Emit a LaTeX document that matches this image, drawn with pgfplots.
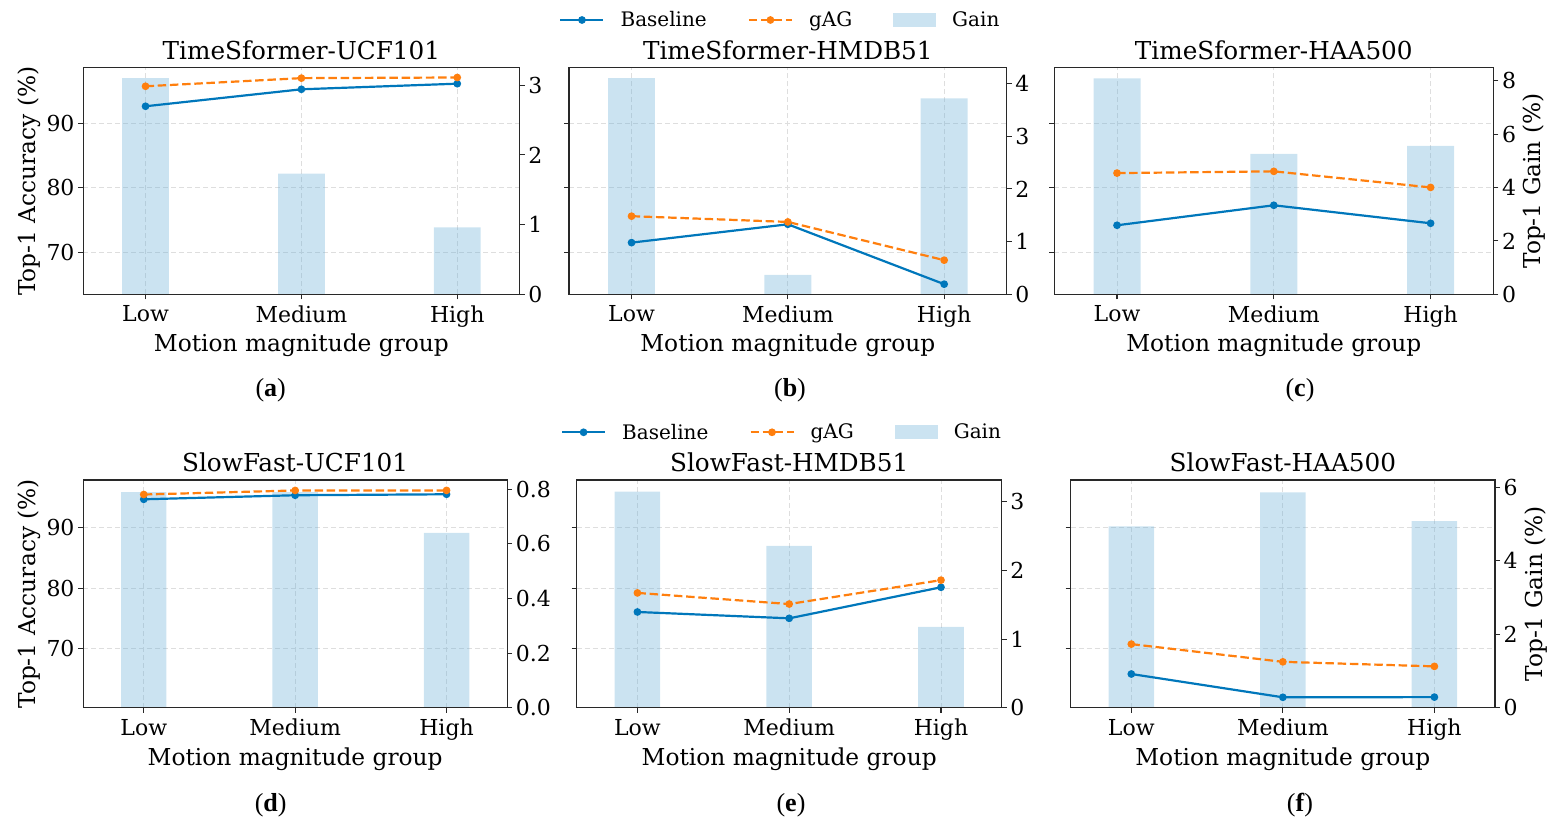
\documentclass[border=0pt]{standalone}
\usepackage{pgfplots}
\pgfplotsset{compat=1.18}
\usepackage{pgfplotstable}
\usepackage{fontspec}
\setmainfont{DejaVu Serif}
\newfontfamily\capfont{Liberation Serif}
\definecolor{basecol}{RGB}{0,119,187}
\definecolor{gagcol}{RGB}{255,127,14}
\definecolor{barcol}{RGB}{107,174,214}
\definecolor{gridcol}{RGB}{222,222,222}
\definecolor{axcol}{RGB}{40,40,40}
\newcommand{\fs}{\fontsize{22}{26}\selectfont}
\newcommand{\fl}{\fontsize{23.3}{27}\selectfont}

\pgfplotstableread{
x base gag gain
0 92.64 95.74 3.10
1 95.27 97.00 1.73
2 96.14 97.10 0.96
}\dataA
\pgfplotstableread{
x base gag gain
0 71.50 75.60 4.10
1 74.34 74.71 0.37
2 65.06 68.78 3.72
}\dataB
\pgfplotstableread{
x base gag gain
0 74.19 82.28 8.09
1 77.29 82.55 5.26
2 74.50 80.06 5.56
}\dataC
\pgfplotstableread{
x base gag gain
0 94.69 95.48 0.79
1 95.36 96.15 0.79
2 95.52 96.16 0.64
}\dataD
\pgfplotstableread{
x base gag gain
0 76.07 79.22 3.15
1 75.02 77.38 2.36
2 80.15 81.33 1.18
}\dataE
\pgfplotstableread{
x base gag gain
0 65.82 70.76 4.94
1 61.97 67.83 5.86
2 62.00 67.08 5.08
}\dataF

\pgfplotsset{
  common/.style={scale only axis, anchor=south west, xmin=-0.4, xmax=2.4,
    tick align=outside, major tick length=5pt,
    axis line style={line width=1.1pt, draw=axcol},
    tick style={line width=1.1pt, color=axcol},
    tick label style={font=\fs},
    yticklabel style={inner xsep=3.5pt},
    xticklabel style={yshift=-3pt},
    /pgf/number format/assume math mode=true},
  accaxis/.style={common, xtick={0,1,2}, xticklabels={Low,Medium,High},
    xtick pos=left, ytick={70,80,90}, ytick pos=left,
    xmajorgrids, ymajorgrids,
    grid style={dash pattern=on 5pt off 3pt, line width=0.8pt, color=gridcol},
    xlabel={Motion magnitude group},
    xlabel style={font=\fl, at={(axis description cs:0.5,0)}, anchor=base, yshift=-57.4pt},
    title style={font=\fontsize{24.7}{29}\selectfont, at={(axis description cs:0.5,1)}, anchor=base, yshift=2.4pt}},
  gainaxis/.style={common, axis on top, xtick=\empty, ytick pos=right, ymin=0, ybar, bar width=0.3},
  lineaxis/.style={common, hide axis},
  row1/.style={height=226.6pt},
  row2/.style={height=227.7pt},
  acc1/.style={ymin=63.49, ymax=98.62},
  acc2/.style={ymin=60.25, ymax=97.88},
  barstyle/.style={fill=barcol, fill opacity=0.35, draw=none},
  bline/.style={basecol, line width=2.2pt, mark=*, mark size=2.7pt, mark options={solid}},
  gline/.style={gagcol, line width=2.2pt, dash pattern=on 8.5pt off 3.7pt, mark=*, mark size=2.7pt, mark options={solid}},
  legimg/.style={legend image code/.code={\draw[mark repeat=2,mark phase=2] plot coordinates {(0pt,0pt) (21.5pt,0pt) (43pt,0pt)};}},
  leg/.style={legend style={draw=none, fill=none, at={(axis description cs:0.4807,#1)}, anchor=center,
    font=\fontsize{20}{24}\selectfont, nodes={inner sep=0pt},
    /tikz/every odd column/.append style={column sep=16pt},
    /tikz/every even column/.append style={column sep=41pt}}, legend columns=3},
  accleft/.style={ylabel={Top-1 Accuracy (\%)}, ylabel style={font=\fl, at={(axis description cs:#1,0.5)}, anchor=base}},
  gainright/.style={ylabel={Top-1 Gain (\%)}, ylabel style={font=\fl, at={(axis description cs:#1,0.5)}, anchor=base}},
}

\begin{document}
\begin{tikzpicture}
% ---------- (a)
\begin{axis}[accaxis, row1, acc1, at={(83.2pt,533.7pt)}, width=436.4pt, title={TimeSformer-UCF101}, accleft=-0.1088]
\end{axis}
\begin{axis}[gainaxis, row1, at={(83.2pt,533.7pt)}, width=436.4pt, ymax=3.25, ytick={0,1,2,3}]
\addplot[barstyle] table[x=x,y=gain] {\dataA};
\end{axis}
\begin{axis}[lineaxis, row1, acc1, at={(83.2pt,533.7pt)}, width=436.4pt]
\addplot[bline] table[x=x,y=base] {\dataA};
\addplot[gline] table[x=x,y=gag] {\dataA};
\end{axis}
% ---------- (b)
\begin{axis}[accaxis, row1, acc1, at={(569pt,533.7pt)}, width=437.7pt, title={TimeSformer-HMDB51}, yticklabels={}]
\end{axis}
\begin{axis}[gainaxis, row1, at={(569pt,533.7pt)}, width=437.7pt, ymax=4.30, ytick={0,1,2,3,4}]
\addplot[barstyle] table[x=x,y=gain] {\dataB};
\end{axis}
\begin{axis}[lineaxis, row1, acc1, at={(569pt,533.7pt)}, width=437.7pt, legimg, leg=1.2105]
\addplot[bline] table[x=x,y=base] {\dataB};
\addlegendentry{Baseline}
\addplot[gline] table[x=x,y=gag] {\dataB};
\addlegendentry{gAG}
\addlegendimage{legend image code/.code={\fill[barcol, fill opacity=0.35, draw=none] (0pt,-7pt) rectangle (43pt,7pt);}}
\addlegendentry{Gain}
\end{axis}
% ---------- (c)
\begin{axis}[accaxis, row1, acc1, at={(1054.3pt,533.7pt)}, width=439pt, title={TimeSformer-HAA500}, yticklabels={}]
\end{axis}
\begin{axis}[gainaxis, row1, at={(1054.3pt,533.7pt)}, width=439pt, ymax=8.49, ytick={0,2,4,6,8}, gainright=1.107]
\addplot[barstyle] table[x=x,y=gain] {\dataC};
\end{axis}
\begin{axis}[lineaxis, row1, acc1, at={(1054.3pt,533.7pt)}, width=439pt]
\addplot[bline] table[x=x,y=base] {\dataC};
\addplot[gline] table[x=x,y=gag] {\dataC};
\end{axis}
% ---------- (d)
\begin{axis}[accaxis, row2, acc2, at={(83.2pt,120.3pt)}, width=423.9pt, title={SlowFast-UCF101}, accleft=-0.112]
\end{axis}
\begin{axis}[gainaxis, row2, at={(83.2pt,120.3pt)}, width=423.9pt, ymax=0.834, ytick={0,0.2,0.4,0.6,0.8},
  yticklabel style={/pgf/number format/.cd, fixed, fixed zerofill, precision=1}]
\addplot[barstyle] table[x=x,y=gain] {\dataD};
\end{axis}
\begin{axis}[lineaxis, row2, acc2, at={(83.2pt,120.3pt)}, width=423.9pt]
\addplot[bline] table[x=x,y=base] {\dataD};
\addplot[gline] table[x=x,y=gag] {\dataD};
\end{axis}
% ---------- (e)
\begin{axis}[accaxis, row2, acc2, at={(576.7pt,120.3pt)}, width=425pt, title={SlowFast-HMDB51}, yticklabels={}]
\end{axis}
\begin{axis}[gainaxis, row2, at={(576.7pt,120.3pt)}, width=425pt, ymax=3.32, ytick={0,1,2,3}]
\addplot[barstyle] table[x=x,y=gain] {\dataE};
\end{axis}
\begin{axis}[lineaxis, row2, acc2, at={(576.7pt,120.3pt)}, width=425pt, legimg, leg=1.2095]
\addplot[bline] table[x=x,y=base] {\dataE};
\addlegendentry{Baseline}
\addplot[gline] table[x=x,y=gag] {\dataE};
\addlegendentry{gAG}
\addlegendimage{legend image code/.code={\fill[barcol, fill opacity=0.35, draw=none] (0pt,-7pt) rectangle (43pt,7pt);}}
\addlegendentry{Gain}
\end{axis}
% ---------- (f)
\begin{axis}[accaxis, row2, acc2, at={(1070.7pt,120.3pt)}, width=424.3pt, title={SlowFast-HAA500}, yticklabels={}]
\end{axis}
\begin{axis}[gainaxis, row2, at={(1070.7pt,120.3pt)}, width=424.3pt, ymax=6.2, ytick={0,2,4,6}, gainright=1.112]
\addplot[barstyle] table[x=x,y=gain] {\dataF};
\end{axis}
\begin{axis}[lineaxis, row2, acc2, at={(1070.7pt,120.3pt)}, width=424.3pt]
\addplot[bline] table[x=x,y=base] {\dataF};
\addplot[gline] table[x=x,y=gag] {\dataF};
\end{axis}
% ---------- captions
\begin{scope}[every node/.style={anchor=base, font=\capfont\fontsize{26}{30}\selectfont}]
\node at (270.7pt,431pt) {(\textbf{a})};
\node at (790pt,431pt) {(\textbf{b})};
\node at (1300pt,431pt) {(\textbf{c})};
\node at (270.7pt,17pt) {(\textbf{d})};
\node at (791pt,17pt) {(\textbf{e})};
\node at (1300pt,17pt) {(\textbf{f})};
\end{scope}
\pgfresetboundingbox
\path (0pt,0pt) rectangle (1558pt,828pt);
\end{tikzpicture}
\end{document}
